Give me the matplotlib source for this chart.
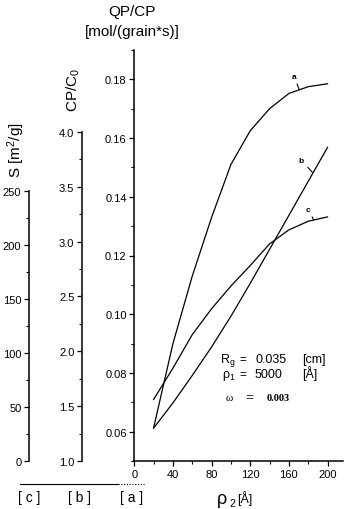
import numpy as np
import matplotlib.pyplot as plt
from matplotlib.lines import Line2D
from matplotlib.ticker import FormatStrFormatter

plt.rcParams['font.family'] = ['Liberation Sans', 'DejaVu Sans']
plt.rcParams['mathtext.default'] = 'regular'

# pore radius rho_2 [A]
rho2 = [20, 40, 60, 80, 100, 120, 140, 160, 180, 200]
# curve a: QP/CP [mol/(grain*s)]
qp_cp_a = [0.0613, 0.090, 0.113, 0.133, 0.151, 0.1625, 0.170, 0.1752, 0.1775, 0.1785]
# curve b: CP/C0
cp_c0_b = [1.30, 1.53, 1.78, 2.04, 2.32, 2.62, 2.93, 3.24, 3.55, 3.86]
# curve c: S [m2/g]
s_c = [57, 86, 117, 141, 162, 181, 201, 214, 222, 226]

a_ticks = [0.06, 0.08, 0.10, 0.12, 0.14, 0.16, 0.18]
b_ticks = [1.0, 1.5, 2.0, 2.5, 3.0, 3.5, 4.0]
c_ticks = [0, 50, 100, 150, 200, 250]
x_ticks = [0, 40, 80, 120, 160, 200]

W, H = 347, 510
fig = plt.figure(figsize=(W / 100, H / 100), dpi=100)


def fx(px):
    return px / W


def fy(py):
    return 1 - py / H


# main axes (scale a)
x0, x1, y0, y1 = 134.3, 343, 462, 51
ax = fig.add_axes([fx(x0), fy(y0), (x1 - x0) / W, (y0 - y1) / H])
ax.set_xlim(0, 216)
ax.set_ylim(0.05, 0.19)
ax.spines['top'].set_visible(False)
ax.spines['right'].set_visible(False)
for s in ('left', 'bottom'):
    ax.spines[s].set_linewidth(1.1)
ax.set_xticks(x_ticks)
ax.set_xticks(np.arange(20, 216, 40), minor=True)
ax.set_yticks(a_ticks)
ax.set_yticks(np.arange(0.05, 0.191, 0.01), minor=True)
ax.yaxis.set_major_formatter(FormatStrFormatter('%.2f'))

# scale b and scale c share the plot area, spines moved to the left
ax_b = ax.twinx()
ax_b.set_ylim(1.0, 1.0 + 411 / 109.67)
ax_c = ax.twinx()
ax_c.set_ylim(0, 411 / 1.08)

for tw, off, ticks, minor, fmt in [
        (ax_b, (x0 - 82) * 0.72, b_ticks, np.arange(1.0, 4.01, 0.25), '%.1f'),
        (ax_c, (x0 - 29) * 0.72, c_ticks, np.arange(0, 251, 25), '%d')]:
    for s in ('top', 'right', 'bottom'):
        tw.spines[s].set_visible(False)
    tw.spines['left'].set_visible(True)
    tw.spines['left'].set_position(('outward', off))
    tw.spines['left'].set_bounds(ticks[0], ticks[-1])
    tw.spines['left'].set_linewidth(1.1)
    tw.yaxis.set_ticks_position('left')
    tw.yaxis.set_label_position('left')
    tw.set_yticks(ticks)
    tw.set_yticks(minor, minor=True)
    tw.yaxis.set_major_formatter(FormatStrFormatter(fmt))

for a in (ax, ax_b, ax_c):
    a.tick_params(which='major', direction='out', length=3.5, width=0.9,
                  labelsize=8, pad=2)
    a.tick_params(which='minor', direction='out', length=2, width=0.8)

# curves
ax.plot(rho2, qp_cp_a, color='black', lw=0.9)
ax_b.plot(rho2, cp_c0_b, color='black', lw=0.9)
ax_c.plot(rho2, s_c, color='black', lw=0.9)

lead = dict(arrowstyle='-', lw=0.8, color='black', shrinkA=1, shrinkB=0)
ax.annotate('a', xy=(170.5, 0.1766), xytext=(165.5, 0.181), fontsize=6,
            fontweight='bold', ha='center', va='center', arrowprops=lead)
ax_b.annotate('b', xy=(184.5, 3.63), xytext=(173, 3.74), fontsize=6,
              fontweight='bold', ha='center', va='center', arrowprops=lead)
ax_c.annotate('c', xy=(185.5, 223.5), xytext=(180, 233), fontsize=6,
              fontweight='bold', ha='center', va='center', arrowprops=lead)

# axis titles
fig.text(fx(132), fy(12), 'QP/CP', ha='center', va='center', fontsize=11)
fig.text(fx(132), fy(32), '[mol/(grain*s)]', ha='center', va='center', fontsize=11)
fig.text(fx(73), fy(90), 'CP/C$_0$', rotation=90, ha='center', va='center', fontsize=11)
fig.text(fx(16), fy(150), 'S [m$^2$/g]', rotation=90, ha='center', va='center', fontsize=11)

# scale keys under the axes
fig.add_artist(Line2D([fx(20), fx(118)], [fy(485), fy(485)], color='black', lw=0.8))
fig.add_artist(Line2D([fx(118), fx(145)], [fy(485), fy(485)], color='black', lw=0.8,
                      ls=(0, (1, 1.5))))
for lbl, px in [('[ c ]', 29), ('[ b ]', 79), ('[ a ]', 132)]:
    fig.text(fx(px), fy(498), lbl, ha='center', va='center', fontsize=10)

fig.text(fx(217), fy(504), 'ρ', fontsize=13, va='baseline')
fig.text(fx(229.5), fy(507), '2', fontsize=7.5, va='baseline')
fig.text(fx(237), fy(503), '[Å]', fontsize=9, va='baseline')

# parameters
pfs = 9
r1, r2 = 363, 378
fig.text(fx(220), fy(r1), 'R$_g$', fontsize=pfs, va='baseline')
fig.text(fx(222), fy(r2), 'ρ$_1$', fontsize=pfs, va='baseline')
for py in (r1, r2):
    fig.text(fx(239), fy(py), '=', fontsize=pfs - 0.5, va='baseline')
fig.text(fx(255), fy(r1), '0.035', fontsize=pfs, va='baseline')
fig.text(fx(302), fy(r1), '[cm]', fontsize=pfs, va='baseline')
fig.text(fx(255), fy(r2), '5000', fontsize=pfs, va='baseline')
fig.text(fx(302), fy(r2), '[Å]', fontsize=pfs, va='baseline')
fig.text(fx(226), fy(401), 'ω', fontsize=8, va='baseline',
         family='Liberation Serif')
fig.text(fx(245), fy(401), '=', fontsize=10, va='baseline', fontweight='bold',
         family='Liberation Serif')
fig.text(fx(267), fy(401), '0.003', fontsize=7.5, va='baseline', fontweight='bold',
         family='Liberation Serif')

fig.savefig('out.png', dpi=100)
